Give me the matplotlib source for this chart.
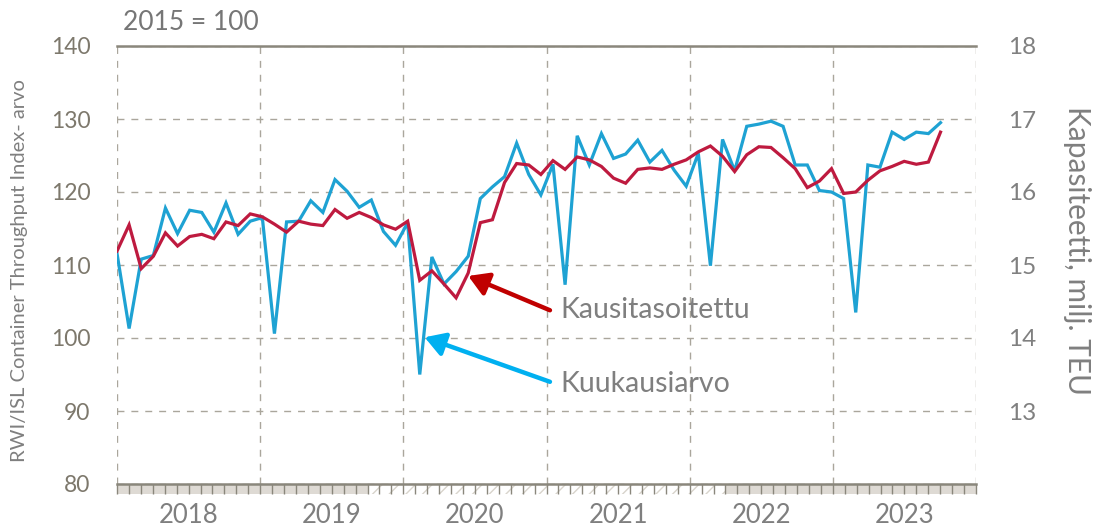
import matplotlib

matplotlib.use("Agg")
import matplotlib.pyplot as plt
import numpy as np
from matplotlib.patches import Rectangle

plt.rcParams["font.family"] = ["Lato", "DejaVu Sans"]

# monthly values, Jan 2018 ->
kuukausiarvo = [
    111.6, 101.3, 110.8, 111.3, 117.8, 114.3, 117.5, 117.2, 114.5, 118.5, 114.2, 116.0,
    116.5, 100.6, 115.9, 116.0, 118.8, 117.2, 121.7, 120.1, 117.9, 118.9, 114.6, 112.7,
    115.8, 95.0, 111.1, 107.4, 109.1, 111.2, 119.1, 120.7, 122.1, 126.7, 122.4, 119.6,
    123.8, 107.3, 127.7, 123.7, 128.0, 124.6, 125.2, 127.1, 124.1, 125.7, 123.0, 120.8,
    125.3, 109.9, 127.2, 122.9, 129.0, 129.3, 129.7, 129.0, 123.7, 123.7, 120.2, 120.0,
    119.1, 103.5, 123.7, 123.4, 128.2, 127.2, 128.2, 128.0, 129.5,
]
kausitasoitettu = [
    111.9, 115.5, 109.5, 111.2, 114.4, 112.6, 113.9, 114.2, 113.6, 115.9, 115.4, 117.0,
    116.6, 115.6, 114.5, 116.0, 115.6, 115.4, 117.6, 116.4, 117.2, 116.5, 115.5, 114.9,
    116.0, 107.9, 109.2, 107.4, 105.5, 108.9, 115.8, 116.2, 121.3, 123.9, 123.7, 122.4,
    124.3, 123.1, 124.8, 124.4, 123.5, 121.9, 121.2, 123.1, 123.3, 123.1, 123.8, 124.4,
    125.5, 126.3, 124.9, 122.8, 125.1, 126.2, 126.1, 124.7, 123.2, 120.6, 121.5, 123.2,
    119.8, 120.0, 121.6, 122.9, 123.5, 124.2, 123.8, 124.1, 128.2,
]
years = [2018, 2019, 2020, 2021, 2022, 2023]
left_ticks = [80, 90, 100, 110, 120, 130, 140]
right_ticks = [13, 14, 15, 16, 17, 18]
# shaded strip under the axis: (start, end, hatched)
strip = [(2018, 2019.75, False), (2019.75, 2022.25, True), (2022.25, 2024, False)]

blue, red = "#1ea2d3", "#be1a3f"
arrow_blue, arrow_red = "#00b0f0", "#c00000"
grid_c, spine_c = "#aaa69c", "#8a877c"
txt = "#7f7f7f"

fig = plt.figure(figsize=(10.95, 5.31), dpi=100)
ax = fig.add_axes([117 / 1095, 1 - 484 / 531, 859 / 1095, 438 / 531])
ax.set_xlim(2018, 2024)
ax.set_ylim(80, 140)
for s in ("left", "right"):
    ax.spines[s].set_visible(False)
for s in ("top", "bottom"):
    ax.spines[s].set_color(spine_c)
    ax.spines[s].set_linewidth(1.8)

ax.set_yticks(left_ticks)
ax.tick_params(axis="y", length=0, pad=19, labelsize=16.5, labelcolor="#7d786c")
ax.set_xticks(range(2018, 2025))
ax.set_xticks(np.arange(2018, 2024, 1 / 12), minor=True)
ax.tick_params(axis="x", which="both", direction="out", length=7.2, width=1.0,
               color=spine_c, labelbottom=False)
ax.grid(True, axis="both", which="major", color=grid_c, linestyle=(0, (5, 5)),
        linewidth=1.0)

strip_h = 10 / 438
for x0, x1, hatched in strip:
    if hatched:
        ax.add_patch(Rectangle((x0, -strip_h), x1 - x0, strip_h, facecolor="white",
                               edgecolor="#d8d4cc", hatch="//", linewidth=0,
                               transform=ax.get_xaxis_transform(), clip_on=False,
                               zorder=0))
    else:
        ax.add_patch(Rectangle((x0, -strip_h), x1 - x0, strip_h, facecolor="#dedad4",
                               linewidth=0, transform=ax.get_xaxis_transform(),
                               clip_on=False, zorder=0))
for y in years:
    ax.text(y + 0.5, -0.071, str(y), transform=ax.get_xaxis_transform(),
            ha="center", va="center", fontsize=18.5, color=txt)

# lines sit on their own month axis (slightly wider spacing than the year grid)
lx = ax.twiny()
lx.set_xlim(0, 70.93)
lx.set_xticks([])
for sp in lx.spines.values():
    sp.set_visible(False)
months = np.arange(len(kuukausiarvo))
lx.plot(months, kuukausiarvo, color=blue, linewidth=2.3, solid_joinstyle="miter")
lx.plot(months, kausitasoitettu, color=red, linewidth=2.3, solid_joinstyle="miter")

lx.annotate("", xy=(29, kausitasoitettu[29] - 0.4), xytext=(35.75, 103.8),
            arrowprops=dict(arrowstyle="-|>,head_length=0.5,head_width=0.3",
                            color=arrow_red, lw=3.2, mutation_scale=24,
                            shrinkA=0, shrinkB=0))
lx.annotate("", xy=(25.4, 100.1), xytext=(35.75, 94.0),
            arrowprops=dict(arrowstyle="-|>,head_length=0.5,head_width=0.3",
                            color=arrow_blue, lw=3.2, mutation_scale=24,
                            shrinkA=0, shrinkB=0))
lx.text(36.6, 103.8, "Kausitasoitettu", va="center", ha="left", fontsize=20.5, color=txt)
lx.text(36.6, 93.7, "Kuukausiarvo", va="center", ha="left", fontsize=20.5, color=txt)

rx = ax.twinx()
rx.set_ylim(12, 18)
rx.set_yticks(right_ticks)
rx.tick_params(axis="y", length=0, pad=23, labelsize=17.5, labelcolor="#808080")
for sp in rx.spines.values():
    sp.set_visible(False)

fig.text(123 / 1095, 1 - 22 / 531, "2015 = 100", fontsize=19, color="#767676",
         ha="left", va="center")
fig.text(20 / 1095, 1 - 271 / 531, "RWI/ISL Container Throughput Index- arvo",
         rotation=90, fontsize=14.5, color=txt, ha="center", va="center")
fig.text(1077 / 1095, 1 - 251 / 531, "Kapasiteetti, milj. TEU", rotation=270,
         fontsize=21.5, color=txt, ha="center", va="center")

fig.savefig("out.png", dpi=100, facecolor="white")
